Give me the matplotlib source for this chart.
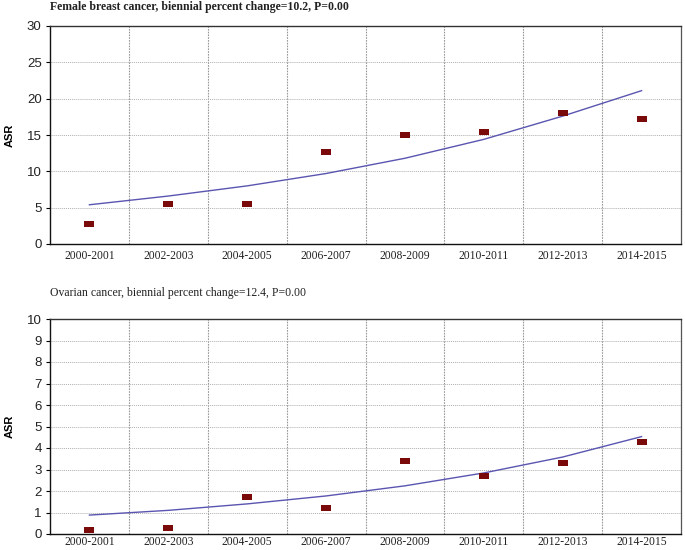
import matplotlib
matplotlib.use("Agg")
import matplotlib.pyplot as plt
from matplotlib.ticker import FixedLocator

periods = ["2000-2001", "2002-2003", "2004-2005", "2006-2007",
           "2008-2009", "2010-2011", "2012-2013", "2014-2015"]

breast_obs = [2.8, 5.45, 5.45, 12.6, 15.05, 15.45, 18.05, 17.25]
breast_fit = [5.4, 6.6, 8.0, 9.7, 11.8, 14.4, 17.6, 21.1]
breast_title = "Female breast cancer, biennial percent change=10.2, P=0.00"

ovary_obs = [0.19, 0.28, 1.71, 1.21, 3.39, 2.70, 3.29, 4.29]
ovary_fit = [0.88, 1.10, 1.40, 1.77, 2.24, 2.84, 3.58, 4.53]
ovary_title = "Ovarian cancer, biennial percent change=12.4, P=0.00"

W, H = 685, 550
fig = plt.figure(figsize=(W / 100, H / 100), dpi=100)
fig.patch.set_facecolor("white")

sq = [(-1.4, -1), (1.4, -1), (1.4, 1), (-1.4, 1), (-1.4, -1)]

def panel(left, top, right, bottom, obs, fit, ymax, ystep, title, bold, title_y, xpad):
    ax = fig.add_axes([left / W, 1 - bottom / H, (right - left) / W, (bottom - top) / H])
    x = list(range(len(periods)))
    ax.plot(x, fit, color="#5a55b0", lw=1.0, zorder=3)
    ax.plot(x, obs, linestyle="none", marker=sq, markersize=6.5,
            color="#7a0a0a", markeredgewidth=0, zorder=4)
    ax.set_xlim(-0.5, len(periods) - 0.5)
    ax.set_ylim(0, ymax)
    yt = list(range(0, ymax + 1, ystep))
    ax.set_yticks(yt)
    ax.set_yticklabels([str(v) for v in yt], fontfamily="Liberation Sans", fontsize=9.5, color="#222")
    ax.set_xticks(x)
    ax.set_xticklabels(periods, fontfamily="Liberation Serif", fontsize=8.4, color="#222")
    ax.xaxis.set_minor_locator(FixedLocator([i + 0.5 for i in range(len(periods) - 1)]))
    ax.tick_params(axis="x", which="both", length=0, pad=xpad)
    ax.tick_params(axis="y", length=3, width=0.8, pad=3)
    ax.grid(axis="y", which="major", linestyle=(0, (1, 1)), color="#b0b0b0", lw=0.7)
    ax.grid(axis="x", which="minor", linestyle=(0, (1.5, 1)), color="#999999", lw=0.8)
    ax.grid(axis="x", which="major", visible=False)
    ax.set_axisbelow(True)
    for s in ["left", "bottom"]:
        ax.spines[s].set_color("#111")
        ax.spines[s].set_linewidth(1.0)
    ax.spines["top"].set_color("#333")
    ax.spines["top"].set_linewidth(1.0)
    ax.spines["right"].set_color("#555")
    ax.spines["right"].set_linewidth(0.9)
    fig.text(10 / W, 1 - ((top + bottom) / 2) / H, "ASR", fontfamily="Liberation Sans",
             fontweight="bold", fontsize=8, rotation=90, ha="center", va="center")
    fig.text(left / W, 1 - title_y / H, title, fontfamily="Liberation Serif",
             fontweight="bold" if bold else "normal", fontsize=8.5,
             ha="left", va="center", color="#222")
    return ax

panel(50, 26, 681, 244, breast_obs, breast_fit, 30, 5, breast_title, True, 7, 4)
panel(50, 319, 681, 534, ovary_obs, ovary_fit, 10, 1, ovary_title, False, 293, 1.5)

fig.savefig("out.png", dpi=100, facecolor="white")
